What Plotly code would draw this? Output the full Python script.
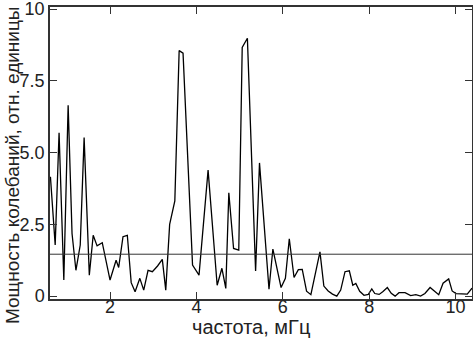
import plotly.graph_objects as go

freq = [0.62, 0.73, 0.82, 0.93, 1.03, 1.12, 1.21, 1.31, 1.40, 1.52, 1.61, 1.70, 1.82, 2.00,
        2.14, 2.20, 2.30, 2.40, 2.49, 2.58, 2.69, 2.78, 2.88, 2.98, 3.10, 3.21, 3.29, 3.38,
        3.50, 3.60, 3.69, 3.91, 4.06, 4.27, 4.48, 4.59, 4.68, 4.75, 4.86, 4.98, 5.06, 5.18,
        5.37, 5.46, 5.68, 5.77, 5.96, 6.06, 6.15, 6.26, 6.36, 6.45, 6.55, 6.65, 6.86, 6.95,
        7.05, 7.15, 7.25, 7.34, 7.44, 7.54, 7.62, 7.69, 7.78, 7.88, 7.98, 8.06, 8.13, 8.23,
        8.32, 8.42, 8.51, 8.60, 8.69, 8.83, 8.96, 9.08, 9.19, 9.29, 9.41, 9.52, 9.61, 9.71,
        9.84, 9.92, 10.01, 10.27, 10.38]
power = [4.16, 1.78, 5.69, 0.56, 6.65, 2.18, 0.90, 1.78, 5.52, 0.73, 2.12, 1.75, 1.86, 0.56,
         1.25, 1.00, 2.07, 2.12, 0.47, 0.15, 0.62, 0.21, 0.90, 0.85, 1.05, 1.28, 0.21, 2.50,
         3.32, 8.55, 8.46, 1.08, 0.73, 4.39, 0.38, 0.97, 0.27, 3.60, 1.66, 1.60, 8.66, 8.98,
         0.88, 4.64, 0.24, 1.64, 0.30, 0.62, 2.00, 0.65, 0.92, 0.93, 0.17, 0.05, 1.54, 0.35,
         0.18, 0.07, 0.00, 0.21, 0.85, 0.88, 0.38, 0.44, 0.17, 0.03, 0.06, 0.25, 0.09, 0.06,
         0.16, 0.30, 0.10, 0.00, 0.12, 0.12, 0.02, 0.05, 0.00, 0.09, 0.30, 0.16, 0.05, 0.45,
         0.60, 0.18, 0.09, 0.07, 0.28]
threshold = 1.46

x_ticks = [2, 4, 6, 8, 10]
y_ticks = [0, 2.5, 5.0, 7.5, 10]
y_tick_labels = ["0", "2.5", "5.0", "7.5", "10"]

x_title = "частота, мГц"
y_title = "Мощность колебаний, отн. единицы"

font = "Arial, Liberation Sans, sans-serif"

fig = go.Figure()
fig.add_trace(go.Scatter(x=freq, y=power, mode="lines",
                         line=dict(color="#000000", width=1.3), showlegend=False,
                         cliponaxis=False))
fig.add_hline(y=threshold, line=dict(color="#333333", width=1))

axis_common = dict(showgrid=False, zeroline=False, showline=True, linecolor="#333333",
                   linewidth=1.5, mirror="ticks", ticks="inside", ticklen=7,
                   tickcolor="#333333", tickwidth=1.2, automargin=False,
                   ticklabeloverflow="allow",
                   tickfont=dict(family=font, size=18, color="#222222"))

fig.update_xaxes(range=[0.61, 10.38], tickvals=x_ticks, ticktext=[str(v) for v in x_ticks],
                 ticklabelstandoff=-9, **axis_common)
fig.update_yaxes(range=[-0.1, 10.07], tickvals=y_ticks, ticktext=y_tick_labels,
                 **axis_common)

fig.add_annotation(text=x_title, xref="paper", yref="paper", x=(251 - 50) / 422,
                   y=-(327 - 299) / 292, showarrow=False, xanchor="center", yanchor="middle",
                   font=dict(family=font, size=20, color="#222222"))
fig.add_annotation(text=y_title, xref="paper", yref="paper", x=-(50 - 12) / 422,
                   y=(299 - 166) / 292, showarrow=False, xanchor="center", yanchor="middle",
                   textangle=-90, font=dict(family=font, size=19, color="#222222"))

fig.update_layout(width=473, height=340, margin=dict(l=50, r=1, t=7, b=41, autoexpand=False),
                  plot_bgcolor="white", paper_bgcolor="white")

fig.write_html("out.html", config={"displayModeBar": False},
               post_script="document.body.style.margin='0';document.body.style.overflow='hidden';")
